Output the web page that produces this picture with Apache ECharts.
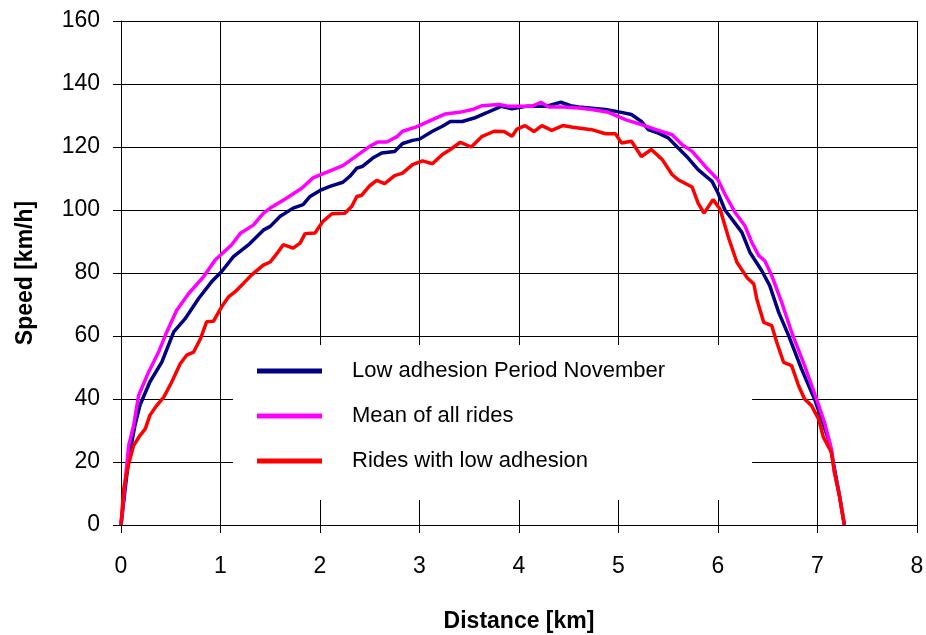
<!DOCTYPE html>
<html>
<head>
<meta charset="utf-8">
<script src="https://cdn.jsdelivr.net/npm/echarts@6/dist/echarts.min.js"></script>
<style>
  html, body { margin: 0; padding: 0; background: #fff; }
  #chart { width: 926px; height: 635px; }
</style>
</head>
<body>
<div id="chart"></div>
<script>
// values
const seriesNames = ['Low adhesion Period November', 'Mean of all rides', 'Rides with low adhesion'];

const novDist = [0, 0.077, 0.14, 0.19, 0.29, 0.41, 0.53, 0.645, 0.78, 0.91, 1.01, 1.13, 1.28, 1.43, 1.5, 1.6, 1.73, 1.83, 1.9, 2.0,
  2.1, 2.23, 2.3, 2.37, 2.43, 2.53, 2.62, 2.75, 2.83, 2.93, 3.0, 3.13, 3.23, 3.31, 3.43, 3.55, 3.67, 3.82, 3.93, 4.07,
  4.27, 4.42, 4.52, 4.6, 4.87, 5.03, 5.13, 5.23, 5.3, 5.4, 5.5, 5.6, 5.7, 5.8, 5.94, 6.0, 6.07, 6.14, 6.24, 6.32,
  6.44, 6.52, 6.61, 6.71, 6.84, 6.97, 7.04, 7.12, 7.17, 7.22, 7.27];
const novSpeed = [0, 21, 31.6, 38, 45.4, 51.7, 61.3, 65.5, 71.9, 77.2, 80.4, 85.2, 88.9, 93.6, 94.8, 98, 100.6, 101.7, 104.3, 106.2,
  107.5, 108.8, 110.7, 113.3, 113.9, 116.5, 118.1, 118.6, 121.1, 122.1, 122.5, 125, 126.6, 128.1, 128.1, 129.2, 130.8, 132.9, 132.1, 132.9,
  132.9, 134.2, 133.1, 132.7, 131.9, 131, 130.3, 128.1, 125.5, 124.4, 122.9, 119.7, 116.5, 112.8, 109.1, 105.4, 100, 97.1, 92.9, 86.6,
  80.7, 76, 67.5, 60.1, 49.5, 40, 33.7, 26.2, 18, 9.5, 0];

const meanDist = [0, 0.077, 0.127, 0.177, 0.278, 0.378, 0.46, 0.56, 0.68, 0.83, 0.946, 1.11, 1.2, 1.33, 1.43, 1.5, 1.667, 1.82, 1.93, 2.07,
  2.23, 2.35, 2.5, 2.58, 2.67, 2.77, 2.83, 2.97, 3.13, 3.26, 3.4, 3.53, 3.63, 3.8, 3.9, 4.0, 4.13, 4.22, 4.3, 4.44,
  4.6, 4.73, 4.9, 5.07, 5.23, 5.4, 5.54, 5.64, 5.74, 5.87, 6.0, 6.07, 6.17, 6.27, 6.34, 6.41, 6.47, 6.54, 6.64, 6.74,
  6.87, 6.99, 7.07, 7.14, 7.17, 7.22, 7.27];
const meanSpeed = [0, 25.2, 31.6, 41.1, 48.6, 54.9, 61.3, 68.2, 73.5, 78.8, 84.1, 88.9, 92.6, 95.2, 98.9, 100.6, 103.8, 107, 110.2, 112,
  114.1, 116.8, 120.2, 121.6, 121.6, 123.2, 125, 126.4, 128.7, 130.5, 131, 131.9, 133.1, 133.5, 132.9, 132.9, 132.9, 134.2, 132.7, 132.7,
  132.4, 131.9, 131, 128.7, 127.1, 125.3, 123.9, 120.7, 118.6, 113.9, 109.6, 105, 99.3, 95, 89.7, 85.5, 83.9, 79.2, 70.7, 61.2,
  50.6, 40, 32.6, 24.1, 17, 9.5, 0];

const lowDist = [0, 0.027, 0.077, 0.127, 0.19, 0.244, 0.29, 0.36, 0.43, 0.51, 0.595, 0.66, 0.73, 0.8, 0.86, 0.93, 1.01, 1.08, 1.145, 1.23,
  1.31, 1.43, 1.5, 1.57, 1.63, 1.73, 1.8, 1.85, 1.95, 2.03, 2.12, 2.25, 2.32, 2.37, 2.42, 2.5, 2.57, 2.65, 2.75, 2.83,
  2.93, 3.03, 3.13, 3.23, 3.31, 3.41, 3.52, 3.63, 3.75, 3.85, 3.93, 3.98, 4.06, 4.15, 4.23, 4.33, 4.44, 4.54, 4.73, 4.87,
  4.97, 5.03, 5.13, 5.23, 5.33, 5.44, 5.54, 5.6, 5.74, 5.8, 5.86, 5.95, 6.02, 6.11, 6.19, 6.29, 6.36, 6.39, 6.46, 6.54,
  6.59, 6.66, 6.74, 6.81, 6.87, 6.94, 7.01, 7.06, 7.14, 7.17, 7.22, 7.27];
const lowSpeed = [0, 11.5, 19.4, 25.2, 28.4, 30.5, 34.8, 38, 40.6, 45.4, 51.2, 53.9, 54.9, 59.2, 64.5, 64.7, 69.2, 72.4, 74, 76.7,
  79.3, 82.5, 83.5, 86.3, 89, 87.9, 89.5, 92.5, 92.7, 96.4, 98.8, 99, 101.2, 104.3, 104.7, 107.7, 109.4, 108.4, 110.9, 111.7,
  114.4, 115.6, 114.7, 117.6, 119.2, 121.5, 120, 123.4, 125, 124.9, 123.4, 125.7, 126.8, 124.9, 126.8, 125.3, 126.8, 126.3, 125.5, 124.2,
  124.2, 121.3, 121.8, 117, 119.2, 116, 111.2, 109.6, 107.3, 102.2, 99, 103.3, 100.3, 90.8, 83.4, 78.6, 76.5, 71.7, 64.3, 63.3,
  58, 51.6, 50.6, 44.2, 40, 37.9, 33.7, 27.8, 23.1, 16.7, 9.3, 0];

const colors = ['#000080', '#FF00FF', '#FF0000'];

const pairs = (xs, ys) => xs.map((x, i) => [x, ys[i]]);
const allData = [pairs(novDist, novSpeed), pairs(meanDist, meanSpeed), pairs(lowDist, lowSpeed)];

const font = '"Liberation Sans", Arial, sans-serif';
const myChart = echarts.init(document.getElementById('chart'));

const option = {
    animation: false,
    textStyle: { fontFamily: font },
    grid: { left: 121, right: 9, top: 21, bottom: 110, outerBoundsMode: 'none', containLabel: false },
    legend: {
        orient: 'vertical',
        left: 233,
        top: 345,
        backgroundColor: '#fff',
        padding: [15, 87, 28, 24],
        itemGap: 23,
        itemWidth: 65,
        itemHeight: 5,
        icon: 'rect',
        selectedMode: false,
        data: seriesNames,
        textStyle: { fontSize: 22, color: '#000', fontFamily: font, padding: [0, 0, 0, 25] }
    },
    xAxis: {
        type: 'value',
        min: 0, max: 8, interval: 1,
        name: 'Distance [km]',
        nameLocation: 'middle',
        nameGap: 85,
        nameTextStyle: { fontSize: 23, fontWeight: 'bold', color: '#000' },
        axisLine: { show: true, lineStyle: { color: '#000', width: 1 } },
        axisTick: { show: true, length: 8, lineStyle: { color: '#000' } },
        axisLabel: { fontSize: 23, color: '#000', margin: 30 },
        splitLine: { show: true, lineStyle: { color: '#000', width: 1 } }
    },
    yAxis: {
        type: 'value',
        min: 0, max: 160, interval: 20,
        name: 'Speed [km/h]',
        nameLocation: 'middle',
        nameGap: 84,
        nameTextStyle: { fontSize: 23, fontWeight: 'bold', color: '#000' },
        axisLine: { show: true, lineStyle: { color: '#000', width: 1 } },
        axisTick: { show: true, length: 8, lineStyle: { color: '#000' } },
        axisLabel: { fontSize: 23, color: '#000', margin: 21 },
        splitLine: { show: true, lineStyle: { color: '#000', width: 1 } }
    },
    series: seriesNames.map((name, i) => ({
        name: name,
        type: 'line',
        data: allData[i],
        showSymbol: false,
        symbol: 'none',
        color: colors[i],
        lineStyle: { color: colors[i], width: 3.5 },
        z: 2 + i
    }))
};
myChart.setOption(option);
window.addEventListener('resize', function () {
    myChart.resize();
});
</script>
</body>
</html>
